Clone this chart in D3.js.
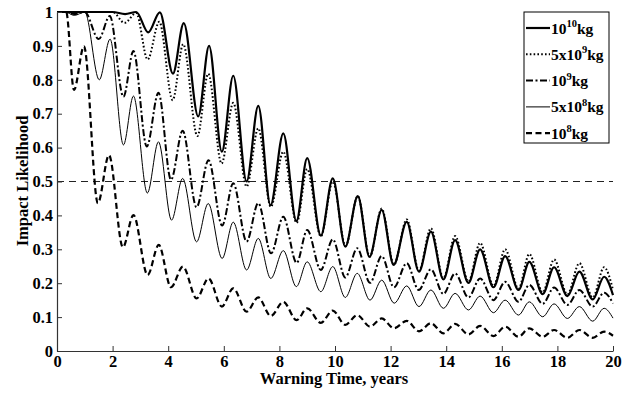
<!DOCTYPE html>
<html><head><meta charset="utf-8">
<script src="https://cdn.jsdelivr.net/npm/d3@7"></script>
<style>
html,body{margin:0;padding:0;background:#fff;}
text{font-family:"Liberation Serif","Times New Roman",serif;font-weight:bold;fill:#000;}
</style></head>
<body><svg id="c" width="639" height="394"></svg>
<script>
// ---- data (local extrema of each curve) ----
const seriesNames = ["1e10", "5e9", "1e9", "5e8", "1e8"];
const legendBase = ["10", "5x10", "10", "5x10", "10"];
const legendExp = ["10", "9", "9", "8", "8"];

const t10 = [0,2.0,2.45,2.85,3.28,3.7,4.17,4.56,5.08,5.47,5.93,6.34,6.82,7.24,7.68,8.14,8.61,9.0,9.49,9.92,10.37,10.82,11.24,11.68,12.11,12.58,13.02,13.45,13.9,14.32,14.8,15.22,15.7,16.12,16.6,16.99,17.47,17.88,18.36,18.79,19.27,19.68,20];
const v10 = [1,1,0.994,1.0,0.94,0.999,0.818,0.967,0.692,0.90,0.588,0.812,0.50,0.723,0.43,0.642,0.383,0.569,0.34,0.509,0.308,0.457,0.278,0.416,0.254,0.381,0.234,0.352,0.211,0.327,0.201,0.30,0.188,0.28,0.18,0.263,0.168,0.247,0.162,0.234,0.152,0.219,0.165];

const t5e9 = [0,2.0,2.43,2.85,3.26,3.68,4.16,4.54,5.05,5.44,5.92,6.34,6.82,7.24,7.69,8.14,8.62,9.0,9.49,9.92,10.38,10.82,11.25,11.68,12.12,12.58,13.02,13.45,13.9,14.32,14.8,15.22,15.7,16.12,16.6,16.99,17.47,17.88,18.36,18.79,19.27,19.68,20];
const v5e9 = [1,1,0.968,0.997,0.86,0.971,0.74,0.905,0.634,0.818,0.553,0.732,0.485,0.657,0.425,0.588,0.378,0.537,0.338,0.50,0.31,0.457,0.278,0.42,0.255,0.388,0.237,0.362,0.215,0.339,0.205,0.319,0.192,0.30,0.184,0.286,0.173,0.27,0.167,0.259,0.158,0.247,0.18];

const t1e9 = [0,0.3,0.62,1.0,1.5,1.9,2.39,2.75,3.23,3.65,4.1,4.52,5.02,5.45,5.94,6.34,6.82,7.24,7.7,8.14,8.62,9.0,9.49,9.92,10.37,10.8,11.26,11.68,12.12,12.58,13.01,13.45,13.9,14.32,14.8,15.22,15.7,16.12,16.6,16.99,17.47,17.88,18.36,18.79,19.27,19.68,20];
const v1e9 = [1,1,0.994,1.0,0.92,0.988,0.75,0.885,0.603,0.762,0.505,0.65,0.424,0.563,0.37,0.495,0.323,0.436,0.288,0.396,0.26,0.357,0.239,0.329,0.217,0.303,0.201,0.28,0.188,0.259,0.18,0.241,0.168,0.229,0.158,0.214,0.15,0.204,0.145,0.195,0.139,0.187,0.136,0.18,0.131,0.172,0.14];

const t5e8 = [0,0.3,0.62,1.0,1.52,1.91,2.39,2.75,3.25,3.65,4.12,4.52,5.02,5.44,5.94,6.34,6.82,7.24,7.69,8.14,8.61,9.0,9.49,9.92,10.37,10.8,11.26,11.68,12.13,12.58,13.02,13.45,13.9,14.32,14.8,15.22,15.7,16.12,16.6,16.99,17.47,17.88,18.36,18.79,19.27,19.68,20];
const v5e8 = [1,1,0.99,1.0,0.80,0.92,0.608,0.752,0.466,0.617,0.386,0.509,0.322,0.435,0.273,0.38,0.239,0.332,0.214,0.296,0.19,0.263,0.175,0.249,0.158,0.229,0.15,0.209,0.141,0.192,0.131,0.18,0.126,0.17,0.121,0.162,0.113,0.15,0.106,0.145,0.101,0.139,0.096,0.131,0.088,0.126,0.097];

const t1e8 = [0,0.33,0.61,0.97,1.47,1.87,2.37,2.75,3.26,3.66,4.1,4.53,5.02,5.45,5.93,6.34,6.82,7.24,7.69,8.14,8.62,9.0,9.49,9.92,10.37,10.8,11.26,11.68,12.12,12.58,13.02,13.45,13.9,14.32,14.8,15.22,15.7,16.12,16.6,16.99,17.47,17.88,18.36,18.79,19.27,19.68,20];
const v1e8 = [1,1,0.77,0.899,0.436,0.578,0.306,0.401,0.224,0.313,0.188,0.249,0.155,0.214,0.131,0.185,0.116,0.158,0.103,0.145,0.091,0.126,0.083,0.119,0.077,0.106,0.072,0.096,0.067,0.089,0.058,0.082,0.052,0.08,0.049,0.074,0.044,0.072,0.042,0.067,0.042,0.062,0.039,0.062,0.039,0.057,0.045];

const xTicks = [0,2,4,6,8,10,12,14,16,18,20];
const yTicks = [0,0.1,0.2,0.3,0.4,0.5,0.6,0.7,0.8,0.9,1];
const refLevel = 0.5;

// ---- drawing ----
const svg = d3.select("#c");
const x = d3.scaleLinear().domain([0,20]).range([57,613]);
const y = d3.scaleLinear().domain([0,1]).range([351,12]);

const styles = [
  {w:2.2, dash:null},
  {w:2.0, dash:"1.6,2.2"},
  {w:2.0, dash:"7,2.5,2,2.5"},
  {w:1.0, dash:null},
  {w:2.2, dash:"6,3.5"}
];
const data = [[t10,v10],[t5e9,v5e9],[t1e9,v1e9],[t5e8,v5e8],[t1e8,v1e8]];

// reference line
svg.append("line").attr("x1",x(0)).attr("x2",x(20)).attr("y1",y(refLevel)).attr("y2",y(refLevel))
  .attr("stroke","#222").attr("stroke-width",1).attr("stroke-dasharray","7,5");

const line = d3.line().x(d=>x(d[0])).y(d=>y(d[1])).curve(d3.curveMonotoneX);
svg.append("clipPath").attr("id","pc").append("rect")
  .attr("x",57).attr("y",8).attr("width",560).attr("height",345);
data.forEach((d,i)=>{
  const pts = d[0].map((t,k)=>[t,d[1][k]]);
  svg.append("path").attr("d",line(pts)).attr("fill","none").attr("stroke","#000")
    .attr("stroke-width",styles[i].w).attr("stroke-dasharray",styles[i].dash)
    .attr("stroke-linejoin","round").attr("clip-path","url(#pc)");
});

// axes
const FS = 16.5;
const xa = svg.append("g").attr("transform","translate(0,351)")
  .call(d3.axisBottom(x).tickValues(xTicks).tickFormat(d3.format("d")).tickSizeInner(-5).tickSizeOuter(0).tickPadding(4));
const ya = svg.append("g").attr("transform","translate(57,0)")
  .call(d3.axisLeft(y).tickValues(yTicks).tickFormat(d=>d===0?"0":d===1?"1":d3.format(".1f")(d)).tickSizeInner(-5).tickSizeOuter(0).tickPadding(4));
[xa,ya].forEach(a=>{
  a.select(".domain").attr("stroke","#333").attr("stroke-width",1.2);
  a.selectAll(".tick line").attr("stroke","#333").attr("stroke-width",1);
  a.selectAll("text").attr("font-family","Liberation Serif").attr("font-weight","bold").attr("font-size",FS).attr("fill","#000");
});

svg.append("text").attr("x",334).attr("y",384).attr("text-anchor","middle").attr("font-size",FS).text("Warning Time, years");
svg.append("text").attr("transform","translate(28,181) rotate(-90)").attr("text-anchor","middle").attr("font-size",FS).text("Impact Likelihood");

// legend
const lg = svg.append("g");
lg.append("rect").attr("x",524).attr("y",12).attr("width",85).attr("height",131)
  .attr("fill","#fff").attr("stroke","#000").attr("stroke-width",1);
seriesNames.forEach((n,i)=>{
  const yy = 28 + i*26.3;
  lg.append("line").attr("x1",526).attr("x2",550).attr("y1",yy).attr("y2",yy)
    .attr("stroke","#000").attr("stroke-width",styles[i].w).attr("stroke-dasharray",styles[i].dash);
  const tx = lg.append("text").attr("x",551).attr("y",yy+5.5).attr("font-size",15.5);
  tx.append("tspan").text(legendBase[i]);
  tx.append("tspan").attr("dy",-6.5).attr("font-size",10.5).text(legendExp[i]);
  tx.append("tspan").attr("dy",6.5).text("kg");
});
</script></body></html>
